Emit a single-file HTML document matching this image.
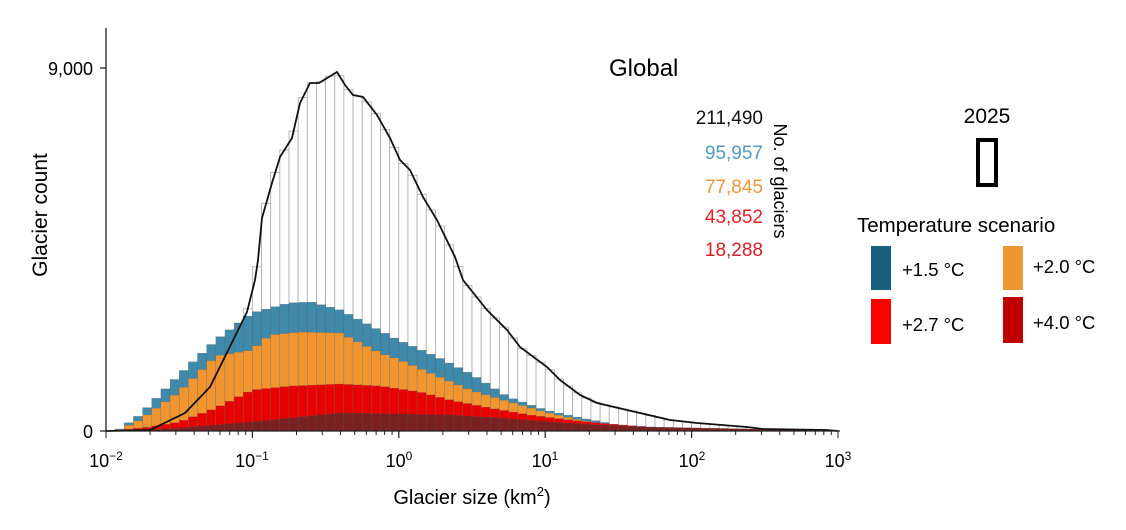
<!DOCTYPE html>
<html><head><meta charset="utf-8"><style>
html,body{margin:0;padding:0;background:#fff;}
svg{display:block;font-family:"Liberation Sans",sans-serif;}
</style></head><body>
<svg id="s" width="1126" height="530" viewBox="0 0 1126 530" xmlns="http://www.w3.org/2000/svg">
<g id="bars"></g>
<polyline id="tot" fill="none" stroke="#111" stroke-width="1.8" points=""/>
<line x1="106" y1="28" x2="106" y2="432" stroke="#222" stroke-width="1.3"/>
<line x1="100" y1="431" x2="840" y2="431" stroke="#222" stroke-width="1.3"/>
<line x1="100" y1="68" x2="106" y2="68" stroke="#222" stroke-width="1.3"/>
<g id="ticks"></g>
<text x="93" y="75" font-size="18" text-anchor="end">9,000</text>
<text x="93" y="438" font-size="18" text-anchor="end">0</text>
<text transform="translate(47,215) rotate(-90)" font-size="21" text-anchor="middle">Glacier count</text>
<g font-size="18" text-anchor="middle">
<text x="106" y="467">10<tspan dy="-7" font-size="12">−2</tspan></text>
<text x="252" y="467">10<tspan dy="-7" font-size="12">−1</tspan></text>
<text x="399" y="467">10<tspan dy="-7" font-size="12">0</tspan></text>
<text x="545" y="467">10<tspan dy="-7" font-size="12">1</tspan></text>
<text x="692" y="467">10<tspan dy="-7" font-size="12">2</tspan></text>
<text x="838" y="467">10<tspan dy="-7" font-size="12">3</tspan></text>
</g>
<text x="472" y="504" font-size="20" text-anchor="middle">Glacier size (km<tspan dy="-8" font-size="13">2</tspan><tspan dy="8">)</tspan></text>
<text x="609" y="76" font-size="24">Global</text>
<g font-size="19" text-anchor="end">
<text x="763" y="124" fill="#111">211,490</text>
<text x="763" y="159" fill="#4f9bbf">95,957</text>
<text x="763" y="193" fill="#f0963a">77,845</text>
<text x="763" y="223" fill="#e8202a">43,852</text>
<text x="763" y="256" fill="#d22027">18,288</text>
</g>
<text transform="translate(774,181) rotate(90)" font-size="18" text-anchor="middle">No. of glaciers</text>
<text x="987" y="123" font-size="21" text-anchor="middle">2025</text>
<rect x="978" y="140" width="18" height="45" fill="none" stroke="#000" stroke-width="4"/>
<text x="857" y="232" font-size="20.5">Temperature scenario</text>
<rect x="871" y="246" width="20" height="44" fill="#1a5e80"/>
<rect x="1003" y="246" width="20" height="44" fill="#ee962f"/>
<rect x="871" y="299" width="20" height="45" fill="#ff0000"/>
<rect x="1003" y="297" width="20" height="46" fill="#c00000"/>
<g font-size="18.5">
<text x="902" y="276">+1.5 °C</text>
<text x="1033" y="273">+2.0 °C</text>
<text x="902" y="331">+2.7 °C</text>
<text x="1033" y="329">+4.0 °C</text>
</g>
</svg>
<script>
function interp(pts,x){if(x<=pts[0][0])return pts[0][1];for(let i=1;i<pts.length;i++){if(x<=pts[i][0]){const a=pts[i-1],b=pts[i];return a[1]+(b[1]-a[1])*(x-a[0])/(b[0]-a[0]);}}return pts[pts.length-1][1];}
const tot=[[106,431],[150,430],[185,413],[210,387],[247,312],[255,280],[258,260],[262,218],[272,183],[280,157],[292,138],[300,103],[310,83],[319,83],[337,72],[345,85],[353,95],[363,97],[377,115],[390,138],[400,160],[410,170],[423,197],[437,220],[455,257],[463,280],[487,310],[507,330],[520,347],[547,367],[560,380],[580,395],[597,403],[627,410],[670,420],[697,423],[747,427],[763,429],[827,430],[838,431]];
const blue=[[106,431],[120,429],[140,415],[179,375],[216,340],[252,313],[289,303],[311,302],[340,310],[369,325],[398,340],[435,356],[471,374],[508,397],[545,410],[581,418],[618,425],[654,428],[691,430],[760,430.6],[838,431]];
const orng=[[106,431],[120,429.5],[140,420],[179,392],[216,356],[252,350],[270,335],[300,332],[340,333],[380,353],[400,360],[430,373],[470,390],[510,402],[545,412],[580,420],[620,426],[660,429],[720,430.5],[838,431]];
const red=[[106,431],[120,430],[150,427],[179,422],[216,408],[252,390],[290,386],[340,384],[380,386],[420,392],[450,400],[490,408],[530,415],[570,420],[610,424],[650,427],[700,429],[760,430.3],[838,431]];
const dark=[[106,431],[140,430.5],[179,428],[216,425],[252,422],[300,417],[340,413],[400,414],[450,415],[500,418],[550,422],[600,425],[650,427],[700,428],[750,429],[800,430],[838,430.7]];
const w=(838-106)/80;let h='';
const layers=[[null,'#fff','#aaa'],[blue,'#3f8aab','#555'],[orng,'#f0952f','#666'],[red,'#e60000','#777'],[dark,'#7a2020','#555']];
for(const [L,f,s] of layers){for(let i=0;i<80;i++){const x=106+i*w,c=x+w/2;const y=interp(L||tot,c);const hh=431-y;if(hh<0.3)continue;h+=`<rect x="${x.toFixed(2)}" y="${y.toFixed(2)}" width="${w.toFixed(2)}" height="${hh.toFixed(2)}" fill="${f}" stroke="${s}" stroke-width="${L?0.4:0.8}" stroke-opacity="${L?0.6:1}"/>`;}}
document.getElementById('bars').innerHTML=h;
document.getElementById('tot').setAttribute('points',tot.map(p=>p.join(',')).join(' '));
let t='';const dec=146.4;
for(let d=0;d<5;d++){for(let k=1;k<=10;k++){const x=106+d*dec+Math.log10(k)*dec;const L=(k==1||k==10)?7:4;t+=`<line x1="${x.toFixed(2)}" y1="431" x2="${x.toFixed(2)}" y2="${431+L}" stroke="#222" stroke-width="1"/>`;}}
document.getElementById('ticks').innerHTML=t;
</script>
</body></html>
